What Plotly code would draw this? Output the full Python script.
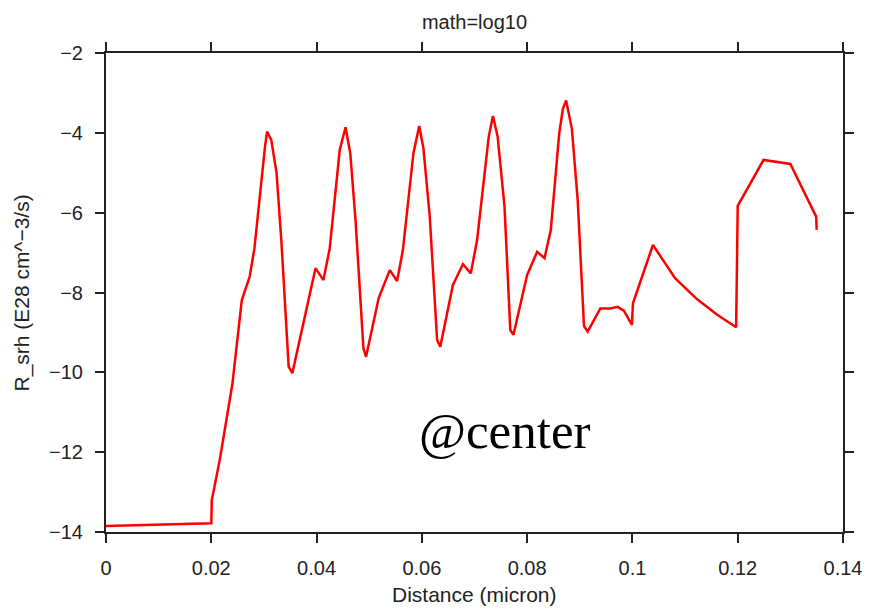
import plotly.graph_objects as go

# SRH recombination rate (log10) along the device depth
distance_um = [
    0.0, 0.0200, 0.0201, 0.0216, 0.0240, 0.0258, 0.0273, 0.0282, 0.0302,
    0.0306, 0.0314, 0.0324, 0.0333, 0.0347, 0.0354,
    0.0398, 0.0413, 0.0425, 0.0444, 0.0455, 0.0464, 0.0474, 0.0489, 0.0494,
    0.0518, 0.0539, 0.0553, 0.0564, 0.0584, 0.0595, 0.0603, 0.0615, 0.0629, 0.0635,
    0.0659, 0.0678, 0.0693, 0.0705, 0.0727, 0.0735, 0.0744, 0.0757, 0.0768, 0.0774,
    0.0800, 0.0819, 0.0833, 0.0845, 0.0861, 0.0868, 0.0874, 0.0885, 0.0896, 0.0908, 0.0915,
    0.0939, 0.0958, 0.0972, 0.0984, 0.0999, 0.1001, 0.1039, 0.1081, 0.1123, 0.1161,
    0.1197, 0.1200, 0.1249, 0.1300, 0.1349, 0.1350,
]
r_srh_log10 = [
    -13.85, -13.78, -13.20, -12.20, -10.30, -8.19, -7.60, -6.89, -4.35,
    -3.97, -4.18, -5.01, -6.68, -9.86, -10.02,
    -7.39, -7.69, -6.89, -4.43, -3.86, -4.51, -6.18, -9.40, -9.61,
    -8.14, -7.44, -7.71, -6.93, -4.51, -3.83, -4.39, -6.10, -9.19, -9.36,
    -7.81, -7.29, -7.52, -6.68, -4.10, -3.58, -4.10, -5.85, -8.94, -9.06,
    -7.56, -6.98, -7.14, -6.43, -4.01, -3.39, -3.19, -3.90, -5.68, -8.84, -8.98,
    -8.40, -8.40, -8.36, -8.46, -8.81, -8.27, -6.81, -7.64, -8.17, -8.56,
    -8.87, -5.83, -4.68, -4.78, -6.10, -6.43,
]

x_ticks = [0, 0.02, 0.04, 0.06, 0.08, 0.1, 0.12, 0.14]
x_tick_labels = ["0", "0.02", "0.04", "0.06", "0.08", "0.1", "0.12", "0.14"]
y_ticks = [-14, -12, -10, -8, -6, -4, -2]
y_tick_labels = ["\u221214", "\u221212", "\u221210", "\u22128", "\u22126", "\u22124", "\u22122"]

sans = "Liberation Sans, Arial, sans-serif"
axis_color = "#222222"

fig = go.Figure()
fig.add_trace(go.Scatter(
    x=distance_um, y=r_srh_log10, mode="lines",
    line=dict(color="#ff0000", width=2.5),
    showlegend=False, hoverinfo="x+y",
))

axis_common = dict(
    showgrid=False, zeroline=False,
    showline=True, linecolor=axis_color, linewidth=2,
    mirror="ticks", ticks="outside", ticklen=9, tickwidth=1.5, tickcolor=axis_color,
    tickfont=dict(family=sans, size=20, color="#222222"),
)

fig.update_xaxes(range=[0, 0.14], tickvals=x_ticks, ticktext=x_tick_labels,
                 ticklabelstandoff=8, **axis_common)
fig.update_yaxes(range=[-14, -2], tickvals=y_ticks, ticktext=y_tick_labels,
                 ticklabelstandoff=8, **axis_common)

fig.update_layout(
    width=876, height=612,
    margin=dict(l=106, r=33, t=53, b=80, autoexpand=False),
    paper_bgcolor="white", plot_bgcolor="white",
    title=dict(text="math=log10", x=0.5, xref="paper", xanchor="center",
               y=1 - 22 / 612, yref="container", yanchor="middle",
               font=dict(family=sans, size=20, color="#222222")),
    annotations=[
        dict(text="Distance (micron)", xref="paper", yref="paper",
             x=0.5, y=-0.1315, xanchor="center", yanchor="middle", showarrow=False,
             font=dict(family=sans, size=21, color="#222222")),
        dict(text="R_srh (E28 cm^\u22123/s)", xref="paper", yref="paper",
             x=-0.114, y=0.5, xanchor="center", yanchor="middle", textangle=-90,
             showarrow=False, font=dict(family=sans, size=21, color="#222222")),
        dict(text="@center", xref="paper", yref="paper",
             x=0.541, y=0.211, xanchor="center", yanchor="middle", showarrow=False,
             font=dict(family="Liberation Serif, serif", size=51, color="black")),
    ],
)

fig.write_html("out.html")
